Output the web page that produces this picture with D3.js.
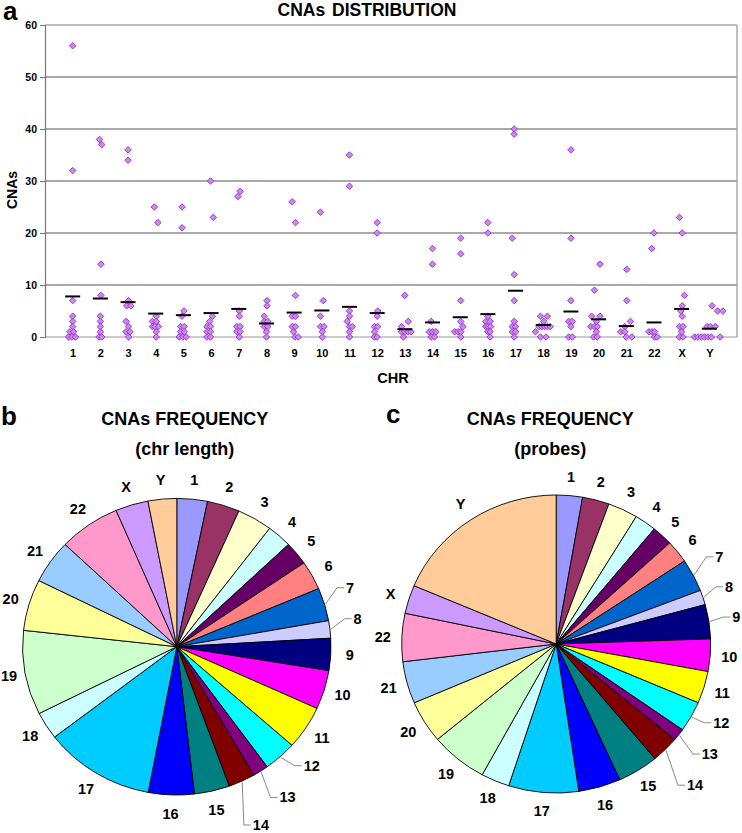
<!DOCTYPE html>
<html><head><meta charset="utf-8">
<script src="https://cdn.jsdelivr.net/npm/d3@7"></script>
<style>
body{margin:0;background:#fff;}
svg text{font-family:"Liberation Sans",Arial,sans-serif;font-weight:bold;fill:#000;}
</style></head><body>
<svg id="chart" width="742" height="833"></svg>
<script>
// ---------------- DATA ----------------
const chrLabels = ["1","2","3","4","5","6","7","8","9","10","11","12","13","14","15","16","17","18","19","20","21","22","X","Y"];
const yTicks = [0,10,20,30,40,50,60];
// individual CNA counts per sample: [chromosome position (jittered), CNAs]
const cnaPoints = [
 [1,56],[1,32],[1,7],[1,4],[1,3],[1,2],[0.9,1],[1.03,1],[0.85,0],[0.97,0],[1.1,0],
 [1.97,38],[2.05,37],[2.02,14],[2.02,8],[2,4],[2,3],[2,2],[2,1],[1.95,0],[2.05,0],
 [3,36],[3,34],[3.02,7],[2.95,6],[3.1,6],[2.93,3],[3.02,2],[2.92,1],[3.07,1],[3.02,0],
 [3.95,25],[4.08,22],[4.02,4],[3.88,3],[4.02,3],[3.88,2],[3.97,2],[4.1,2],[4.02,1],[4.02,0],
 [4.95,25],[4.95,21],[5.02,5],[4.95,4],[4.9,2],[5.03,2],[4.9,1],[5.03,1],[4.85,0],[4.98,0],[5.1,0],
 [5.98,30],[6.08,23],[6.05,4],[5.95,3],[5.85,2],[5.98,2],[5.85,1],[5.98,1],[5.85,0],[5.98,0],
 [7.05,28],[6.97,27],[7.02,5],[7.02,4],[6.93,2],[7.05,2],[6.93,1],[7.05,1],[7.02,0],
 [8.02,7],[8.02,6],[7.92,4],[7.92,3],[8.05,3],[7.92,2],[8.05,2],[8,1],[8,0],
 [8.93,26],[9.05,22],[9.05,8],[8.93,4],[9.05,4],[8.93,2],[9.05,2],[8.98,1],[9.03,0],[9.15,0],
 [9.95,24],[10.05,7],[9.95,4],[9.95,2],[10.08,2],[10.02,1],[10.02,0],
 [11,35],[11,29],[11,5],[11,4],[10.92,3],[11,2],[11.1,2],[11,1],[11,0],
 [12,22],[12,20],[12.02,5],[12,4],[11.9,2],[12.02,2],[11.9,1],[11.9,0],[12,0],
 [13,8],[13.12,3],[12.88,2],[12.88,1],[13,1],[13.12,1],[13.22,1],[12.95,0],
 [14,17],[14,14],[13.95,3],[13.88,1],[14,1],[14.12,1],[13.95,0],[14.07,0],
 [15.02,19],[15.02,16],[15.02,7],[15.02,3],[15.1,2],[14.8,1],[14.92,1],[15.02,1],[15.02,0],
 [16,22],[16,20],[16,4],[15.92,3],[16.08,3],[15.92,2],[16,2],[16.1,2],[16,1],[16.08,1],[16.08,0],
 [16.95,40],[16.95,39],[16.88,19],[16.95,12],[16.95,7],[16.95,3],[16.88,2],[17,2],[16.88,1],[17,1],[16.95,0],
 [17.9,4],[18.15,4],[18.02,3],[17.85,2],[17.95,2],[18.05,2],[18.15,2],[18.25,2],[17.72,1],[17.9,0],[18.1,0],
 [19,36],[19,19],[19,7],[18.92,3],[19.05,3],[19,2],[18.92,0],[19.05,0],
 [20.05,14],[19.85,9],[19.75,4],[20.05,4],[19.92,3],[19.72,2],[19.85,2],[19.95,2],[19.92,1],[19.82,0],[19.95,0],
 [21.02,13],[21.02,7],[21.15,3],[20.95,2],[20.8,1],[20.95,1],[21,0],[21.2,0],
 [22,20],[21.92,17],[21.82,1],[21.93,1],[22.02,1],[22.02,0],[22.12,0],
 [22.92,23],[23.02,20],[23.1,8],[23.02,6],[22.97,5],[23.02,4],[22.92,2],[23.05,2],[23,1],[22.92,0],[23.05,0],
 [24.1,6],[24.3,5],[24.49,5],[23.92,2],[24.04,2],[24.21,2],[23.47,0],[23.59,0],[23.71,0],[23.83,0],[23.95,0],[24.07,0],[24.39,0]
];
const meanCNAs = [7.8,7.4,6.7,4.5,4.2,4.6,5.4,2.6,4.7,5.1,5.8,4.6,1.5,2.8,3.8,4.4,8.9,2.3,4.9,3.4,2.1,2.8,5.4,1.6];
const freqChrLength = [3.2,3.4,3.7,2.6,2.55,3.15,3.6,1.9,3.5,4.25,4.75,3.45,1.65,2.8,3.7,4.8,11.6,3.0,9.2,5.6,4.75,6.45,3.45,3.0];
const freqProbes = [2.74,2.8,3.13,2.28,2.19,2.46,3.54,1.6,3.71,3.51,3.49,3.31,1.32,2.89,4.27,4.42,7.31,2.98,5.99,4.6,4.55,5.21,3.09,18.6];
const sliceColors = ["#9999FF","#993366","#FFFFCC","#CCFFFF","#660066","#FF8080","#0066CC","#CCCCFF","#000080","#FF00FF","#FFFF00","#00FFFF","#800080","#800000","#008080","#0000FF","#00CCFF","#CCFFFF","#CCFFCC","#FFFF99","#99CCFF","#FF99CC","#CC99FF","#FFCC99"];

// ---------------- LAYOUT ----------------
const svg = d3.select("#chart");

// panel a
const x = d3.scaleLinear().domain([0,25]).range([45,737]);
const y = d3.scaleLinear().domain([0,60]).range([337,25]);
const ga = svg.append("g");

ga.append("text").attr("x",3).attr("y",20).style("font-size","26px").text("a");
ga.append("text").attr("x",367).attr("y",15.5).attr("text-anchor","middle").style("font-size","17.5px").style("word-spacing","2px").text("CNAs DISTRIBUTION");

// gridlines
ga.selectAll("line.grid").data(yTicks.filter(v=>v>0 && v<60)).enter().append("line")
  .attr("x1",x(0)).attr("x2",x(25)).attr("y1",d=>y(d)).attr("y2",d=>y(d))
  .attr("stroke","#555").attr("stroke-width",1.2);
// frame
ga.append("line").attr("x1",x(0)).attr("x2",x(25)).attr("y1",y(60)).attr("y2",y(60)).attr("stroke","#aaa").attr("stroke-width",1.5);
ga.append("line").attr("x1",x(25)).attr("x2",x(25)).attr("y1",y(60)).attr("y2",y(0)).attr("stroke","#aaa").attr("stroke-width",1.5);
ga.append("line").attr("x1",x(0)).attr("x2",x(25)).attr("y1",y(0)).attr("y2",y(0)).attr("stroke","#999").attr("stroke-width",1.2);

const yAxis = ga.append("g").attr("transform",`translate(${x(0)},0)`)
  .call(d3.axisLeft(y).tickValues(yTicks).tickSize(5).tickPadding(3));
yAxis.select(".domain").attr("stroke","#777").attr("stroke-width",1.2);
yAxis.selectAll(".tick line").attr("stroke","#777");
yAxis.selectAll("text").style("font-size","10.5px").style("font-family","'Liberation Sans',Arial,sans-serif");

const xAxis = ga.append("g").attr("transform",`translate(0,${y(0)})`)
  .call(d3.axisBottom(x).tickValues(d3.range(1,25)).tickFormat(i=>chrLabels[i-1]).tickSize(0).tickPadding(12));
xAxis.select(".domain").remove();
xAxis.selectAll("text").style("font-size","11px").style("font-family","'Liberation Sans',Arial,sans-serif");

ga.append("text").attr("x",393).attr("y",383).attr("text-anchor","middle").style("font-size","14.5px").text("CHR");
ga.append("text").attr("transform","translate(17,190) rotate(-90)").attr("text-anchor","middle").style("font-size","14px").text("CNAs");

// points
ga.append("g").selectAll("path").data(cnaPoints).enter().append("path")
  .attr("d", d3.symbol(d3.symbolSquare).size(21)())
  .attr("transform", d=>`translate(${x(d[0])},${y(d[1])}) rotate(45)`)
  .attr("fill","#CC88EE").attr("stroke","#9933CC").attr("stroke-width",0.9);

// mean bars
ga.append("g").selectAll("line").data(meanCNAs).enter().append("line")
  .attr("x1",(d,i)=>x(i+1)-7.5).attr("x2",(d,i)=>x(i+1)+7.5)
  .attr("y1",d=>y(d)).attr("y2",d=>y(d))
  .attr("stroke","#000").attr("stroke-width",2);

// ---------------- PIES ----------------
function drawPie(cfg){
  const g = svg.append("g");
  g.append("text").attr("x",cfg.letterX).attr("y",cfg.letterY).style("font-size","26px").text(cfg.letter);
  g.append("text").attr("x",cfg.cx+cfg.titleDx).attr("y",425).attr("text-anchor","middle").style("font-size","18px").text("CNAs FREQUENCY");
  g.append("text").attr("x",cfg.cx+cfg.titleDx).attr("y",455).attr("text-anchor","middle").style("font-size","18px").text(cfg.subtitle);

  const pie = d3.pie().sort(null).value(d=>d)(cfg.values);
  const arc = d3.arc().innerRadius(0).outerRadius(cfg.rx);
  const inner = g.append("g").attr("transform",`translate(${cfg.cx},${cfg.cy}) scale(1,${cfg.ry/cfg.rx})`);
  inner.selectAll("path").data(pie).enter().append("path")
    .attr("d",arc).attr("fill",(d,i)=>sliceColors[i])
    .attr("stroke","#000").attr("stroke-width",0.9).attr("vector-effect","non-scaling-stroke");

  pie.forEach((p,i)=>{
    const lab = chrLabels[i];
    const mid = (p.startAngle+p.endAngle)/2;
    const w = lab.length*8;
    if(cfg.leaders[lab]){
      const [phi,dist] = cfg.leaders[lab];
      const a = phi*Math.PI/180;
      const tx = cfg.cx + dist*Math.sin(a), ty = Math.min(cfg.cy - dist*Math.cos(a), 825);
      const ex = cfg.cx + (cfg.rx+1)*Math.sin(mid), ey = cfg.cy - (cfg.ry+1)*Math.cos(mid);
      const left = tx - w/2;
      g.append("polyline").attr("points",`${ex},${ey} ${left-9},${ty} ${left-2},${ty}`)
        .attr("fill","none").attr("stroke","#888").attr("stroke-width",1);
      g.append("text").attr("x",tx).attr("y",ty).attr("text-anchor","middle").attr("dominant-baseline","central").style("font-size","14.5px").text(lab);
    } else {
      const tx = Math.max(cfg.cx + (cfg.rx+19)*Math.sin(mid), w/2 + 1), ty = cfg.cy - (cfg.ry+19)*Math.cos(mid);
      g.append("text").attr("x",tx).attr("y",ty).attr("text-anchor","middle").attr("dominant-baseline","central").style("font-size","14.5px").text(lab);
    }
  });
}

drawPie({letter:"b",letterX:1,letterY:425,subtitle:"(chr length)",cx:176.8,cy:646.7,rx:154.2,ry:148.3,titleDx:8,
  values:freqChrLength,
  leaders:{"7":[71.2,183],"8":[81.2,183],"12":[131.4,180],"13":[143.7,187],"14":[155,199]}});
drawPie({letter:"c",letterX:386,letterY:423,subtitle:"(probes)",cx:556.2,cy:644,rx:154.5,ry:149,titleDx:-6,
  values:freqProbes,
  leaders:{"7":[61.9,185],"8":[71.7,182],"9":[81.5,182],"12":[115.5,183],"13":[125.6,189],"14":[135.5,198]}});
</script>
</body></html>
